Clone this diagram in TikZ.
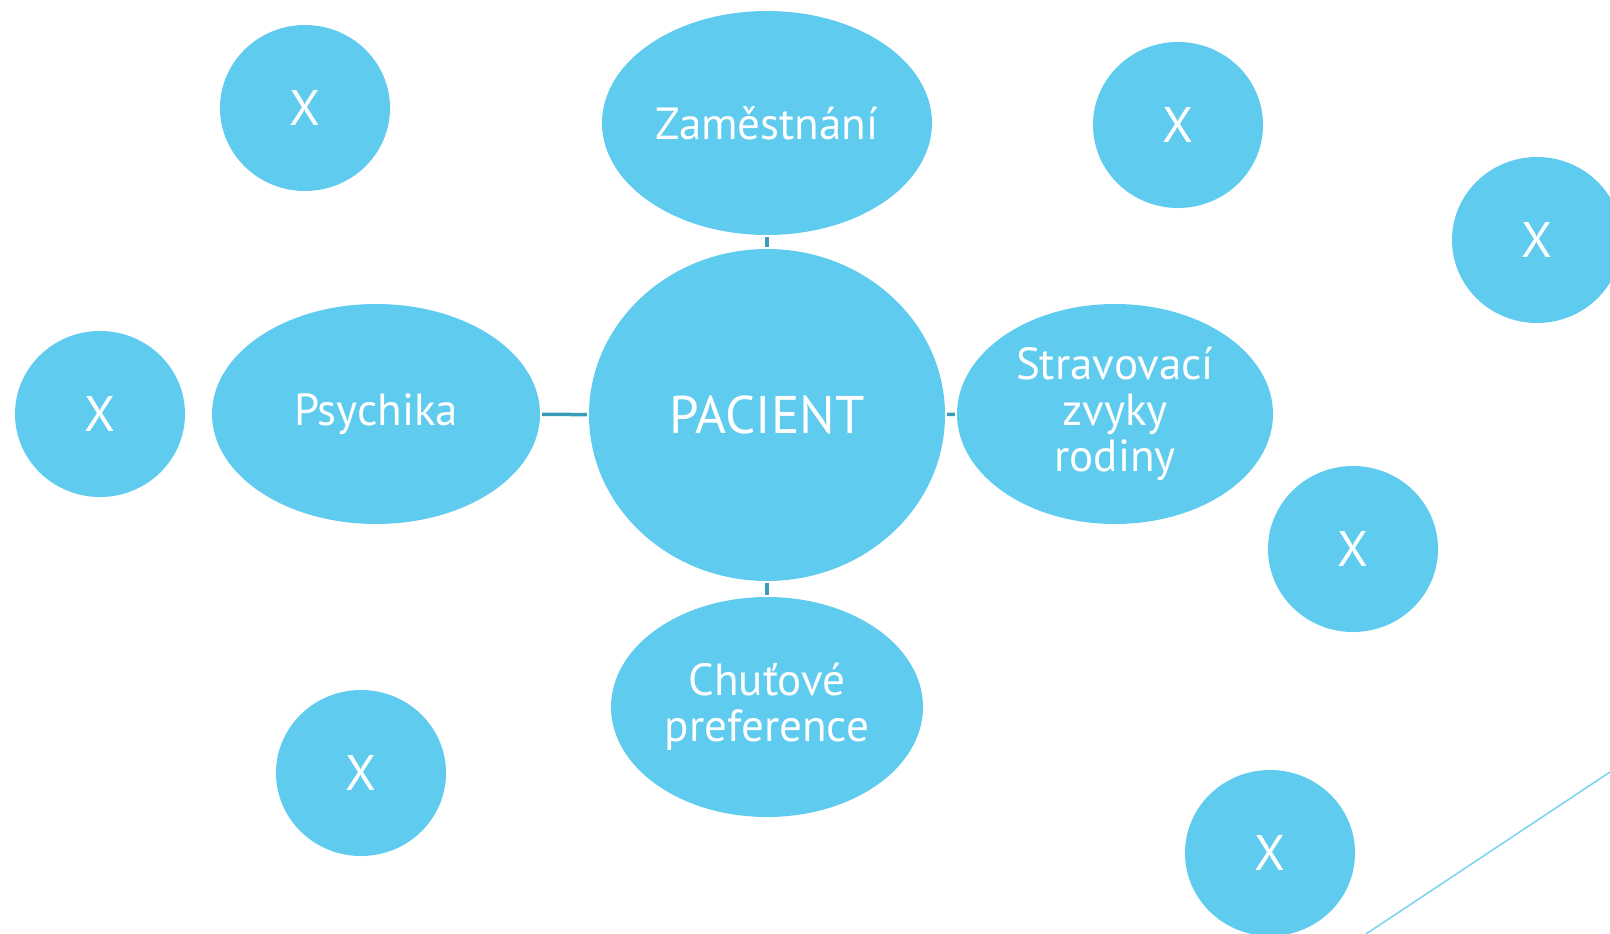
\documentclass[tikz,border=0pt]{standalone}
\usepackage{fontspec}
\setmainfont{PT Sans}
\usetikzlibrary{shapes.geometric}
\definecolor{bub}{HTML}{5FCBEE}
\definecolor{conn}{HTML}{3B9CBA}
\definecolor{diagcol}{HTML}{7FD4F0}
\tikzset{
  bubble/.style={ellipse, fill=bub, draw=none, inner sep=0pt, text=white, align=center},
  xbub/.style={bubble, minimum width=170pt, minimum height=166pt, font=\fontsize{50}{50}\selectfont},
  lab/.style={font=\fontsize{45}{46}\selectfont},
  link/.style={draw=conn, line width=3.5pt, shorten <=2pt, shorten >=2pt},
  diag/.style={draw=diagcol, line width=1.6pt},
}
\begin{document}
\begin{tikzpicture}[x=1pt,y=-1pt]
\useasboundingbox (0,0) rectangle (1610,934);
\clip (0,0) rectangle (1610,934);
\node[xbub] (x1) at (305,108) {X};
\node[xbub] (x2) at (1178,125) {X};
\node[xbub] (x3) at (1537,240) {X};
\node[xbub] (x4) at (100,414) {X};
\node[xbub] (x5) at (1353,549) {X};
\node[xbub] (x6) at (361,773) {X};
\node[xbub] (x7) at (1270,853) {X};
\node[bubble, lab, minimum width=330pt, minimum height=224pt] (zam) at (767,123) {Zaměstnání};
\node[bubble, lab, minimum width=328pt, minimum height=220pt] (psy) at (376,414) {Psychika};
\node[bubble, font=\fontsize{53}{53}\selectfont, minimum width=356pt, minimum height=332pt] (pac) at (767,415) {PACIENT};
\node[bubble, lab, minimum width=316pt, minimum height=220pt] (str) at (1115,414) {Stravovací\\zvyky\\rodiny};
\node[bubble, lab, minimum width=312pt, minimum height=220pt] (chu) at (767,707) {Chuťové\\preference};
\draw[link] (zam) -- (pac);
\draw[link] (psy) -- (pac);
\draw[link] (pac) -- (str);
\draw[link] (pac) -- (chu);
\coordinate (d1) at (1366,934);
\coordinate (d2) at (1610,772);
\draw[diag] (d1) -- (d2);
\end{tikzpicture}
\end{document}
